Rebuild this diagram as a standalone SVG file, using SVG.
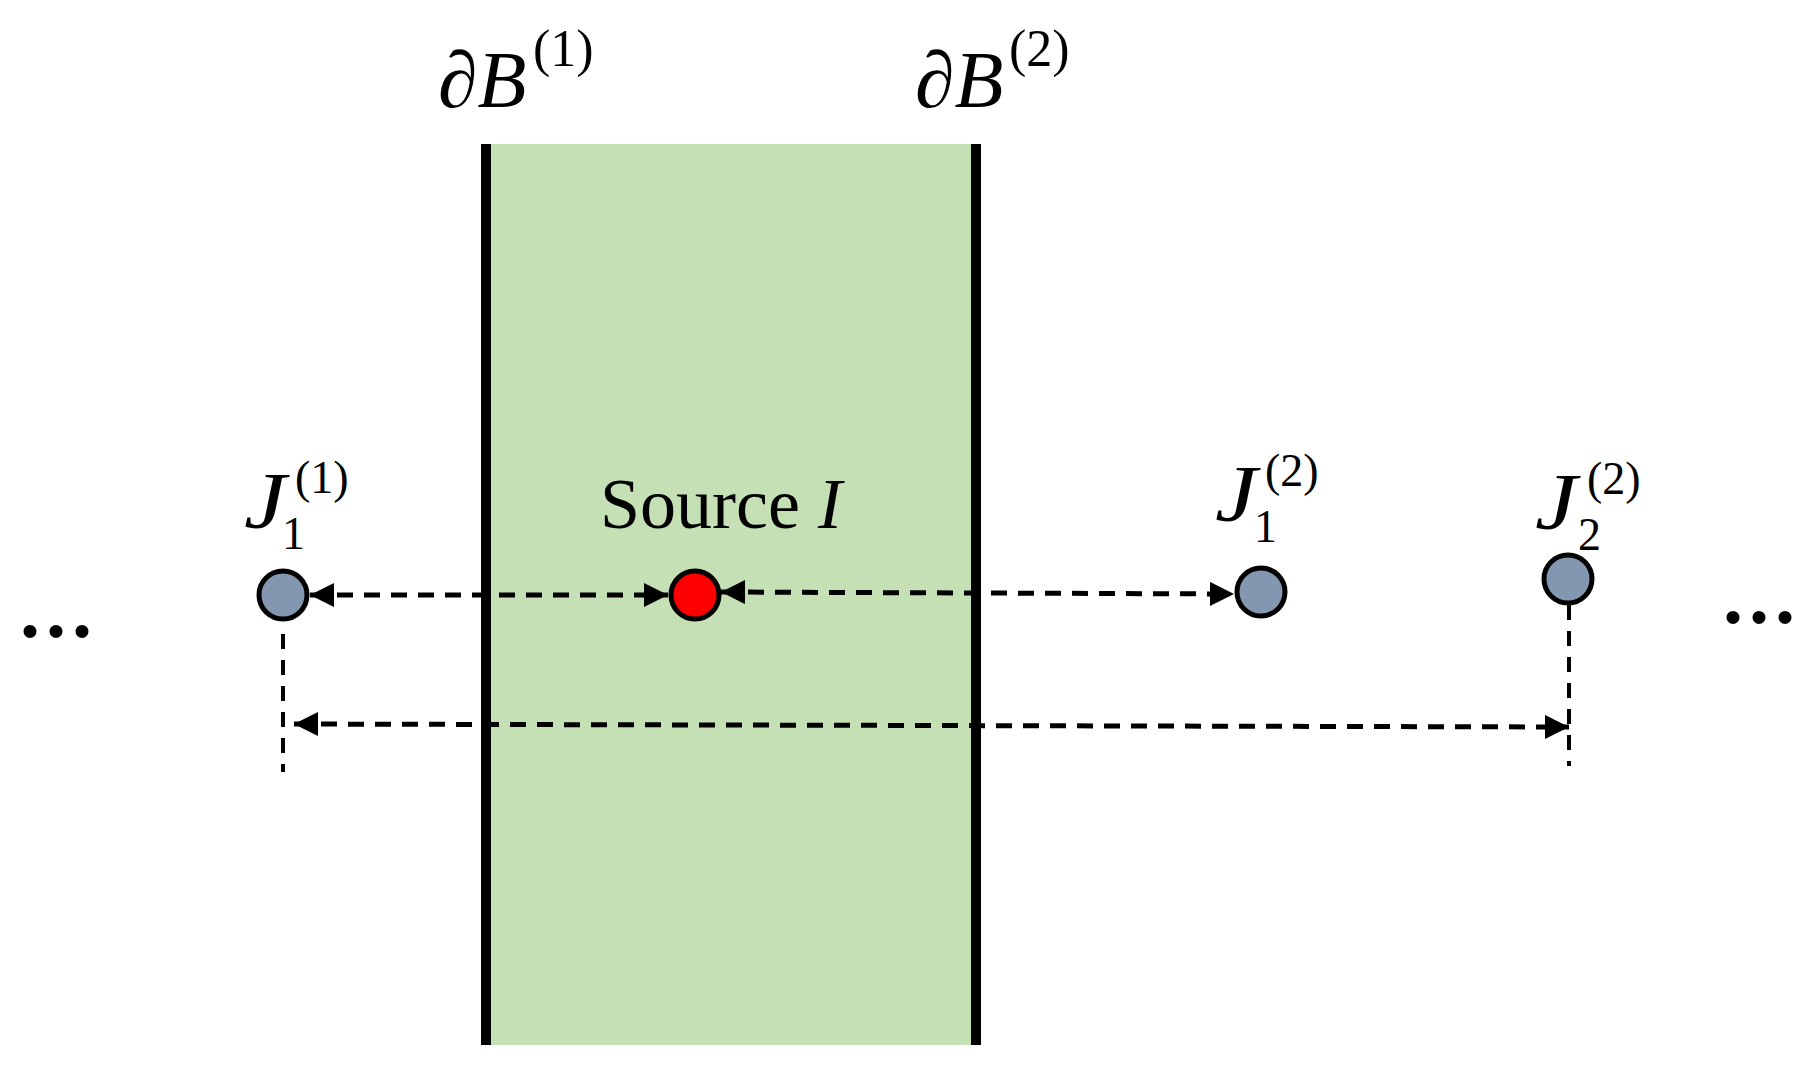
<svg xmlns="http://www.w3.org/2000/svg" width="1809" height="1073" viewBox="0 0 1809 1073">
<style>
.t{font-family:"Liberation Serif","Times New Roman",serif;fill:#000}
.m{font-size:80px}
.j{font-size:80px;font-style:italic}
.i{font-style:italic}
.s{font-size:46px}
.s2{font-size:52px}
.dots{font-family:"Liberation Serif",serif;font-weight:bold;font-size:80px;letter-spacing:6px}
.bd{stroke:#000;stroke-width:10;fill:none}
.node{stroke:#000;stroke-width:5}
.dash{stroke:#000;stroke-width:5;stroke-dasharray:16 11;fill:none}
.vdash{stroke:#000;stroke-width:4;stroke-dasharray:15 11;fill:none}
</style>
<defs>
<marker id="ah" markerUnits="userSpaceOnUse" markerWidth="26" markerHeight="26" refX="24" refY="12" orient="auto-start-reverse">
<path d="M0,0 L24,12 L0,24 Z" fill="#000"/>
</marker>
</defs>
<rect width="1809" height="1073" fill="#fff"/>
<g id="region">
<rect x="486" y="144" width="490" height="901" fill="#C5E0B4"/>
<line class="bd" x1="486" y1="144" x2="486" y2="1045"/>
<line class="bd" x1="976" y1="144" x2="976" y2="1045"/>
</g>
<g id="labels">
<text class="t m" x="438" y="107"><tspan class="i">∂B</tspan></text>
<text class="t s2" x="533" y="66">(1)</text>
<text class="t m" x="915" y="107"><tspan class="i">∂B</tspan></text>
<text class="t s2" x="1009" y="66">(2)</text>
</g>
<g id="connectors">
<line class="dash" x1="310" y1="595" x2="668" y2="595" marker-start="url(#ah)" marker-end="url(#ah)"/>
<line class="dash" x1="721" y1="592" x2="1234" y2="594" marker-start="url(#ah)" marker-end="url(#ah)"/>
<line class="dash" x1="294" y1="724" x2="1569" y2="727" marker-start="url(#ah)" marker-end="url(#ah)"/>
<line class="vdash" x1="283" y1="634" x2="283" y2="772"/>
<line class="vdash" x1="1569" y1="605" x2="1569" y2="766"/>
</g>
<g id="J1_1">
<circle class="node" cx="283" cy="595" r="24" fill="#8497B0"/>
<text class="t j" x="244" y="528" textLength="42" lengthAdjust="spacingAndGlyphs">J</text>
<text class="t s" x="282" y="549">1</text>
<text class="t s" x="295" y="493">(1)</text>
</g>
<g id="source">
<circle class="node" cx="695" cy="595" r="24" fill="#FF0000"/>
<text class="t" font-size="72" x="600" y="528">Source <tspan class="i">I</tspan></text>
</g>
<g id="J1_2">
<circle class="node" cx="1261" cy="592" r="24" fill="#8497B0"/>
<text class="t j" x="1215" y="521" textLength="42" lengthAdjust="spacingAndGlyphs">J</text>
<text class="t s" x="1254" y="542">1</text>
<text class="t s" x="1265" y="486">(2)</text>
</g>
<g id="J2_2">
<circle class="node" cx="1568" cy="579" r="24" fill="#8497B0"/>
<text class="t j" x="1535" y="529" textLength="42" lengthAdjust="spacingAndGlyphs">J</text>
<text class="t s" x="1578" y="550">2</text>
<text class="t s" x="1587" y="494">(2)</text>
</g>
<g id="ellipsis">
<text class="dots" x="20" y="637">...</text>
<text class="dots" x="1723" y="623">...</text>
</g>
</svg>
